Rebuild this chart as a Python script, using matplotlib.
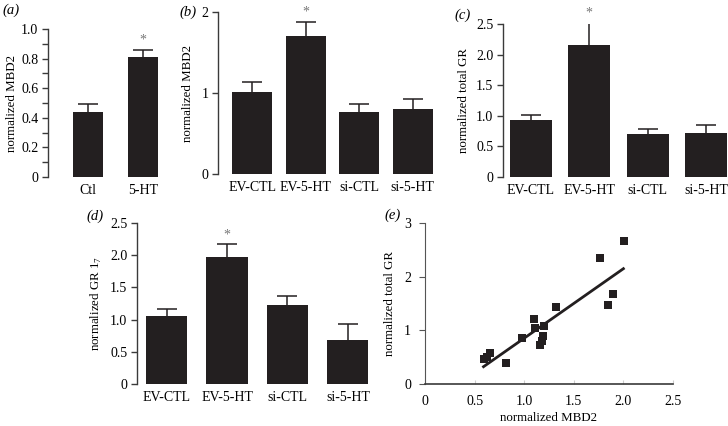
import matplotlib.pyplot as plt
import numpy as np

plt.rcParams['font.family'] = ['Liberation Serif', 'DejaVu Serif']
plt.rcParams['font.size'] = 9.3
plt.rcParams['xtick.labelsize'] = 10
plt.rcParams['ytick.labelsize'] = 10
plt.rcParams['mathtext.fontset'] = 'custom'
plt.rcParams['mathtext.rm'] = 'Liberation Serif'

# (a)
a_groups = ['Ctl', '5-HT']
a_means = [0.44, 0.81]
a_err = [0.05, 0.05]

# (b), (c), (d) share the same groups
groups = ['EV-CTL', 'EV-5-HT', 'si-CTL', 'si-5-HT']
b_means = [1.01, 1.70, 0.77, 0.80]
b_err = [0.12, 0.18, 0.10, 0.12]
c_means = [0.93, 2.15, 0.71, 0.72]
c_err = [0.09, 0.38, 0.07, 0.13]
d_means = [1.06, 1.97, 1.22, 0.68]
d_err = [0.10, 0.20, 0.14, 0.25]

# (e) scatter
e_mbd2 = [0.59, 0.63, 0.66, 0.82, 0.98, 1.10, 1.11, 1.16, 1.18, 1.19, 1.20, 1.32,
          1.765, 1.845, 1.90, 2.01]
e_gr = [0.46, 0.50, 0.57, 0.40, 0.85, 1.21, 1.04, 0.72, 0.81, 0.89, 1.09, 1.44,
        2.34, 1.47, 1.68, 2.67]

W, H = 728, 426
BAR = '#231f20'
AXC = '#3a3a3a'

fig = plt.figure(figsize=(W / 100, H / 100), dpi=100)


def px_axes(x0, y_top, x1, y_bot):
    return fig.add_axes([x0 / W, 1 - y_bot / H, (x1 - x0) / W, (y_bot - y_top) / H])


def bar_panel(ax, labels, means, err, width, xlim, ylim, yticks, fmt, star=None):
    x = np.arange(len(means))
    ax.bar(x, means, width=width, color=BAR, zorder=2)
    eb = ax.errorbar(x, means, yerr=[np.zeros(len(err)), err], fmt='none',
                     ecolor=BAR, elinewidth=1.1, capsize=7, capthick=1.1, zorder=1)
    eb[1][0].set_visible(False)  # only the upper cap
    ax.set_xlim(*xlim)
    ax.set_ylim(*ylim)
    ax.set_xticks(x)
    ax.set_xticklabels(labels)
    ax.set_yticks(yticks)
    ax.set_yticklabels([fmt(v) for v in yticks])
    for s in ['top', 'right', 'bottom']:
        ax.spines[s].set_visible(False)
    ax.spines['left'].set_color(AXC)
    ax.spines['left'].set_linewidth(1.0)
    ax.tick_params(axis='x', length=0, pad=5)
    ax.tick_params(axis='y', length=4, width=1.0, color=AXC, pad=3)
    if star is not None:
        ax.annotate('*', (star, means[star] + err[star]), xytext=(0, 2),
                    textcoords='offset points', ha='center', va='bottom',
                    color='#777777', fontsize=10, annotation_clip=False)


def fmt1(v):
    return '0' if v == 0 else f'{v:.1f}'


def fmt0(v):
    return f'{v:g}'


# panel a
ax = px_axes(48, 29, 168, 177)
bar_panel(ax, a_groups, a_means, a_err, 0.545, (-0.727, 1.45), (0, 1.0),
          np.arange(0, 1.01, 0.2), fmt1, star=1)
ax.set_yticks(np.arange(0, 1.01, 0.1), minor=True)
ax.tick_params(axis='y', which='minor', length=4, width=1.0, color=AXC)
ax.set_ylabel('normalized MBD2', labelpad=2)
fig.text(2 / W, 1 - 10 / H, '(a)', style='italic', fontsize=10.5, va='center')

# panel b
ax = px_axes(218, 12, 440, 174)
bar_panel(ax, groups, b_means, b_err, 0.75, (-0.636, 3.51), (0, 2),
          [0, 1, 2], fmt0, star=1)
ax.set_ylabel('normalized MBD2', labelpad=5)
fig.text(179 / W, 1 - 12 / H, '(b)', style='italic', fontsize=10.5, va='center')

# panel c
ax = px_axes(503, 24, 727, 177)
bar_panel(ax, groups, c_means, c_err, 0.72, (-0.477, 3.36), (0, 2.5),
          np.arange(0, 2.51, 0.5), fmt1, star=1)
ax.set_ylabel('normalized total GR', labelpad=4)
fig.text(454 / W, 1 - 15 / H, '(c)', style='italic', fontsize=10.5, va='center')

# panel d
ax = px_axes(137, 223, 372, 384)
bar_panel(ax, groups, d_means, d_err, 0.68, (-0.49, 3.4), (0, 2.5),
          np.arange(0, 2.51, 0.5), fmt1, star=1)
ax.set_ylabel('normalized GR 1$_7$', labelpad=4)
fig.text(86 / W, 1 - 216 / H, '(d)', style='italic', fontsize=10.5, va='center')

# panel e
ax = px_axes(425, 223, 673, 384)
ax.scatter(e_mbd2, e_gr, marker='s', s=32, color=BAR, zorder=3, linewidths=0)
slope, icpt = np.polyfit(e_mbd2, e_gr, 1)
xf = np.array([min(e_mbd2), 2.0])
ax.plot(xf, slope * xf + icpt, color=BAR, lw=2.0, zorder=2)
ax.set_xlim(0, 2.5)
ax.set_ylim(0, 3)
ax.set_xticks(np.arange(0, 2.51, 0.5))
ax.set_xticklabels([fmt1(v) for v in np.arange(0, 2.51, 0.5)])
ax.set_yticks([0, 1, 2, 3])
for s in ['top', 'right']:
    ax.spines[s].set_visible(False)
ax.spines['left'].set_color('#555555')
ax.spines['bottom'].set_color(AXC)
ax.spines['bottom'].set_linewidth(1.2)
ax.tick_params(axis='x', direction='in', length=3, color='#cccccc', pad=8)
ax.tick_params(axis='y', length=4, color='#555555', pad=6)
ax.set_xlabel('normalized MBD2', labelpad=3)
ax.set_ylabel('normalized total GR', labelpad=6)
fig.text(384 / W, 1 - 215 / H, '(e)', style='italic', fontsize=10.5, va='center')

fig.savefig('out.png', dpi=100)
